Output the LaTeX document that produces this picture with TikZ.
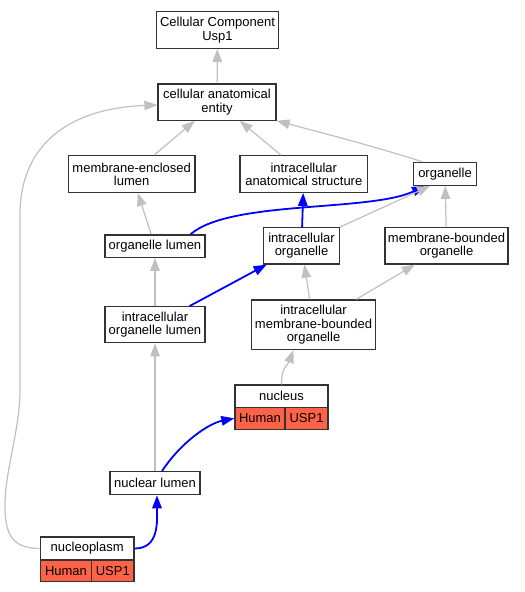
\documentclass[tikz,border=0pt]{standalone}
\usepackage{fontspec}
\setmainfont{Liberation Sans}
\usepackage{tikz}
\usetikzlibrary{arrows.meta}
\definecolor{tomato}{HTML}{FF6347}
\definecolor{edgegray}{HTML}{C0C0C0}

\begin{document}
\begin{tikzpicture}[x=1pt,y=-1pt,
  box/.style={draw=black!80,line width=1.3pt,fill=white,align=center,inner sep=0pt,
    font=\fontsize{13}{13.3}\selectfont},
  cell/.style={box,fill=tomato},
  gedge/.style={draw=edgegray,line width=1.2pt,-{Triangle[length=13pt,width=9.5pt]}},
  bedge/.style={draw=blue,line width=1.8pt,-{Triangle[length=13pt,width=9.5pt]}}]
\useasboundingbox (0,0) rectangle (525,592);

\node[box,minimum width=121.7,minimum height=36.7] (ccusp) at (217.5,30) {Cellular Component\\Usp1};
\node[box,minimum width=118,minimum height=36.3] (cae) at (217,102) {cellular anatomical\\entity};
\node[box,minimum width=126.7,minimum height=36.6] (mel) at (131.7,174) {membrane-enclosed\\lumen};
\node[box,minimum width=127.7,minimum height=36.6] (ias) at (303.8,174) {intracellular\\anatomical structure};
\node[box,minimum width=63.3,minimum height=23] (organelle) at (445,173.8) {organelle};
\node[box,minimum width=100,minimum height=22.3] (ol) at (155,246) {organelle lumen};
\node[box,minimum width=75.7,minimum height=36.3] (io) at (301.5,245.8) {intracellular\\organelle};
\node[box,minimum width=123,minimum height=36.3] (mbo) at (446.5,245.8) {membrane-bounded\\organelle};
\node[box,minimum width=100,minimum height=36] (iol) at (155,324.7) {intracellular\\organelle lumen};
\node[box,minimum width=123.7,minimum height=49.3] (imbo) at (313.5,324.7) {intracellular\\membrane-bounded\\organelle};
% nucleus record
\node[box,minimum width=93,minimum height=22.3] (nuc) at (281.5,396.2) {nucleus};
\node[cell,minimum width=50,minimum height=22] (nucH) at (260,418.3) {Human};
\node[cell,minimum width=43,minimum height=22] (nucU) at (306.5,418.3) {USP1};
\node[box,minimum width=90,minimum height=23] (nl) at (155,483.2) {nuclear lumen};
% nucleoplasm record
\node[box,minimum width=93.7,minimum height=23] (np) at (87.2,548.5) {nucleoplasm};
\node[cell,minimum width=51.4,minimum height=21.3] (npH) at (66,570.7) {Human};
\node[cell,minimum width=42.3,minimum height=21.3] (npU) at (112.8,570.7) {USP1};

\draw[gedge] (cae) -- (ccusp);
\draw[gedge] (mel) -- (cae);
\draw[gedge] (ias) -- (cae);
\draw[gedge] ([xshift=-23]organelle.north) .. controls +(-50,-16) and +(45,12) .. (cae.south east);
\draw[gedge] (np.west) .. controls (12,548) and (5,535) .. (5,505)
  .. controls (5,470) and (20,430) .. (20,390) -- (20,215)
  .. controls (20,140) and (75,108) .. ([yshift=-3]cae.west);
\draw[gedge] (ol) -- (mel);
\draw[bedge] (io) -- (ias);
\draw[bedge] ([xshift=-15]ol.north east) .. controls (230,200) and (370,212) .. ([xshift=-20]organelle.south);
\draw[gedge] (io.north east) -- ([xshift=-15]organelle.south);
\draw[gedge] (mbo) -- (organelle);
\draw[gedge] (iol) -- (ol);
\draw[bedge] (iol) -- (io);
\draw[gedge] (imbo) -- (io);
\draw[gedge] (imbo) -- (mbo);
\draw[gedge] (nuc.north) .. controls +(0,-18) and +(-6,16) .. ([xshift=-20]imbo.south);
\draw[gedge] (nl) -- (iol);
\draw[bedge] ([xshift=7]nl.north) .. controls +(20,-30) and +(-25,5) .. (nucH.west);
\draw[bedge] (np.east) .. controls +(25,0) and +(0,25) .. ([xshift=2]nl.south);
\end{tikzpicture}
\end{document}
